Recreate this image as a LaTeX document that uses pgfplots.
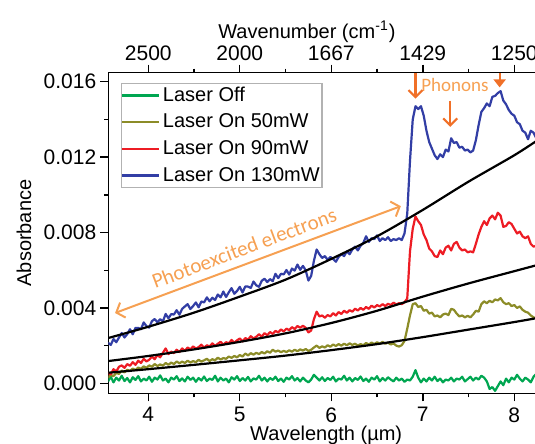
\documentclass[border=0pt]{standalone}
\usepackage{pgfplots}
\pgfplotsset{compat=1.18}
\usepackage{fontspec}
\setmainfont{Liberation Sans}
\newfontfamily\calibri{Carlito}
\usetikzlibrary{arrows.meta}
\definecolor{cgreen}{RGB}{0,166,81}
\definecolor{colive}{RGB}{140,140,40}
\definecolor{cred}{RGB}{237,28,36}
\definecolor{cblue}{RGB}{50,62,165}
\definecolor{clight}{RGB}{246,160,82}
\definecolor{cdark}{RGB}{240,112,40}
\begin{document}
\begin{tikzpicture}
\path[use as bounding box] (-54.15pt,-25.35pt) rectangle (213.35pt,196.65pt);
\begin{axis}[
 at={(0,0)}, anchor=south west,
 scale only axis, width=214.9pt, height=160.3pt,
 xmin=3.563, xmax=8.26, ymin=-0.53, ymax=16.48,
 xtick={4,5,6,7,8}, xticklabels={4,5,6,7,8}, minor x tick num=1,
 ytick={0,4,8,12,16}, yticklabels={0.000,0.004,0.008,0.012,0.016}, minor y tick num=1,
 xtick pos=left, ytick pos=left,
 tick align=outside, major tick length=4pt, minor tick length=2pt,
 every tick/.style={line width=0.7pt, black},
 axis line style={line width=0.7pt},
 ticklabel style={font=\fontsize{10.5}{12}\selectfont},
 /pgf/number format/assume math mode=true,
 xlabel={Wavelength (µm)}, ylabel={Absorbance},
 label style={font=\fontsize{10}{12}\selectfont},
 xlabel style={at={(axis description cs:0.507,-0.1472)}, anchor=base, inner sep=0pt},
 ylabel style={at={(axis description cs:-0.196,0.5)}, anchor=center},
 xticklabel shift=-0.5pt, yticklabel shift=-1.5pt,
 legend cell align=left,
 legend style={at={(0.029,0.969)}, anchor=north west, draw=gray!60, line width=0.6pt,
   font=\fontsize{10}{12}\selectfont, inner xsep=0pt, inner ysep=0.3pt, row sep=1.8pt,
   nodes={inner xsep=1.2pt, inner ysep=1.5pt}},
 legend image code/.code={\draw[#1, line width=1.1pt] (0pt,0pt) -- (18.5pt,0pt);},
 every axis plot/.append style={line width=1.1pt, line join=round},
]
\addplot[cgreen] coordinates {(3.56,0.1)(3.59,0.35)(3.62,0.05)(3.65,0.3)(3.68,0.15)(3.71,0.4)(3.74,0.12)(3.77,0.28)(3.80,0.05)(3.83,0.32)(3.86,0.18)(3.89,0.38)(3.92,0.1)(3.95,0.25)(3.98,0.15)(4.01,0.35)(4.04,0.08)(4.07,0.3)(4.10,0.2)(4.13,0.42)(4.16,0.15)(4.19,0.25)(4.22,0.05)(4.25,0.3)(4.28,0.2)(4.31,0.38)(4.34,0.12)(4.37,0.26)(4.40,0.1)(4.43,0.35)(4.46,0.18)(4.49,0.3)(4.52,0.08)(4.55,0.28)(4.58,0.15)(4.61,0.36)(4.64,0.12)(4.67,0.25)(4.70,0.18)(4.73,0.4)(4.76,0.1)(4.79,0.3)(4.82,0.15)(4.85,0.25)(4.88,0.05)(4.91,0.32)(4.94,0.2)(4.97,0.38)(5.00,0.12)(5.03,0.28)(5.06,0.15)(5.09,0.34)(5.12,0.1)(5.15,0.26)(5.18,0.2)(5.21,0.4)(5.24,0.15)(5.27,0.3)(5.30,0.1)(5.33,0.28)(5.36,0.18)(5.39,0.35)(5.42,0.12)(5.45,0.25)(5.48,0.08)(5.51,0.3)(5.54,0.2)(5.57,0.38)(5.60,0.15)(5.63,0.28)(5.66,0.1)(5.69,0.3)(5.72,0.15)(5.75,0.05)(5.78,0.2)(5.81,0.45)(5.84,0.3)(5.87,0.15)(5.90,0.32)(5.93,0.12)(5.96,0.28)(5.99,0.18)(6.02,0.35)(6.05,0.1)(6.08,0.25)(6.11,0.2)(6.14,0.4)(6.17,0.15)(6.20,0.3)(6.23,0.1)(6.26,0.28)(6.29,0.18)(6.32,0.36)(6.35,0.12)(6.38,0.25)(6.41,0.08)(6.44,0.3)(6.47,0.2)(6.50,0.38)(6.53,0.1)(6.56,0.28)(6.59,0.15)(6.62,0.32)(6.65,0.2)(6.68,0.1)(6.71,0.3)(6.74,0.15)(6.77,0.25)(6.80,0.08)(6.83,0.2)(6.86,0.15)(6.89,0.35)(6.92,0.7)(6.95,0.3)(6.98,0.05)(7.01,0.25)(7.04,0.1)(7.07,0.3)(7.10,0.15)(7.13,0.35)(7.16,0.12)(7.19,0.25)(7.22,0.05)(7.25,0.2)(7.28,0.15)(7.31,0.3)(7.34,0.1)(7.37,0.25)(7.40,0.2)(7.43,0.35)(7.46,0.1)(7.49,0.22)(7.52,0.35)(7.55,0.15)(7.58,0.3)(7.61,0.2)(7.64,0.4)(7.67,0.3)(7.70,0.1)(7.73,-0.3)(7.76,-0.2)(7.79,-0.4)(7.82,-0.15)(7.85,0.1)(7.88,-0.1)(7.91,0.25)(7.94,0.05)(7.97,0.3)(8.00,0.2)(8.03,0.45)(8.06,0.25)(8.09,0.1)(8.12,0.3)(8.15,0.2)(8.18,0.05)(8.21,0.35)(8.24,0.5)(8.27,0.3)};
\addlegendentry{Laser Off}
\addplot[colive] coordinates {(3.56,0.3)(3.59,0.45)(3.62,0.38)(3.65,0.55)(3.68,0.5)(3.71,0.68)(3.74,0.58)(3.77,0.72)(3.80,0.65)(3.83,0.78)(3.86,0.7)(3.89,0.84)(3.92,0.76)(3.95,0.9)(3.98,0.82)(4.01,0.95)(4.04,0.88)(4.07,1.02)(4.10,0.92)(4.13,1.0)(4.16,0.94)(4.19,1.08)(4.22,0.98)(4.25,1.1)(4.28,1.02)(4.31,1.16)(4.34,1.06)(4.37,1.15)(4.40,1.08)(4.43,1.2)(4.46,1.1)(4.49,1.18)(4.52,1.12)(4.55,1.25)(4.58,1.15)(4.61,1.22)(4.64,1.3)(4.67,1.18)(4.70,1.28)(4.73,1.22)(4.76,1.36)(4.79,1.26)(4.82,1.34)(4.85,1.3)(4.88,1.42)(4.91,1.35)(4.94,1.45)(4.97,1.38)(5.00,1.5)(5.03,1.42)(5.06,1.58)(5.09,1.48)(5.12,1.6)(5.15,1.52)(5.18,1.62)(5.21,1.55)(5.24,1.66)(5.27,1.58)(5.30,1.7)(5.33,1.62)(5.36,1.78)(5.39,1.68)(5.42,1.74)(5.45,1.65)(5.48,1.72)(5.51,1.66)(5.54,1.75)(5.57,1.68)(5.60,1.78)(5.63,1.7)(5.66,1.8)(5.69,1.74)(5.72,1.82)(5.75,1.72)(5.78,1.78)(5.81,1.9)(5.84,2.0)(5.87,1.88)(5.90,1.96)(5.93,1.9)(5.96,2.02)(5.99,1.94)(6.02,2.06)(6.05,1.98)(6.08,2.08)(6.11,2.0)(6.14,2.1)(6.17,2.02)(6.20,2.12)(6.23,2.04)(6.26,2.1)(6.29,2.0)(6.32,2.08)(6.35,2.02)(6.38,2.14)(6.41,2.06)(6.44,2.16)(6.47,2.08)(6.50,2.18)(6.53,2.1)(6.56,2.2)(6.59,2.1)(6.62,2.16)(6.65,2.06)(6.68,2.12)(6.71,2.0)(6.74,1.95)(6.77,2.02)(6.80,2.25)(6.83,2.9)(6.86,3.6)(6.89,4.2)(6.92,4.25)(6.95,4.05)(6.98,4.1)(7.01,3.85)(7.04,3.9)(7.07,3.7)(7.10,3.75)(7.13,3.55)(7.16,3.6)(7.19,3.5)(7.22,3.65)(7.25,3.7)(7.28,3.62)(7.31,3.95)(7.34,3.9)(7.37,3.7)(7.40,3.55)(7.43,3.6)(7.46,3.5)(7.49,3.58)(7.52,3.5)(7.55,3.65)(7.58,3.85)(7.61,3.8)(7.64,4.2)(7.67,4.35)(7.70,4.25)(7.73,4.38)(7.76,4.3)(7.79,4.45)(7.82,4.4)(7.85,4.52)(7.88,4.3)(7.91,4.2)(7.94,4.25)(7.97,4.1)(8.00,4.15)(8.03,4.0)(8.06,4.08)(8.09,3.9)(8.12,3.8)(8.15,3.75)(8.18,3.6)(8.21,3.5)(8.24,3.45)(8.27,3.4)};
\addlegendentry{Laser On 50mW}
\addplot[cred] coordinates {(3.56,0.55)(3.59,0.48)(3.62,0.75)(3.65,0.62)(3.68,0.88)(3.71,0.95)(3.74,0.82)(3.77,1.02)(3.80,0.93)(3.83,1.12)(3.86,0.98)(3.89,1.2)(3.92,1.08)(3.95,1.3)(3.98,1.16)(4.01,1.25)(4.04,1.42)(4.07,1.28)(4.10,1.5)(4.13,1.38)(4.16,1.62)(4.19,1.85)(4.22,1.55)(4.25,1.68)(4.28,1.6)(4.31,1.78)(4.34,1.66)(4.37,1.85)(4.40,1.72)(4.43,1.9)(4.46,1.8)(4.49,1.96)(4.52,1.84)(4.55,1.92)(4.58,2.05)(4.61,1.88)(4.64,2.02)(4.67,1.95)(4.70,2.12)(4.73,1.98)(4.76,2.1)(4.79,2.2)(4.82,2.05)(4.85,2.18)(4.88,2.12)(4.91,2.3)(4.94,2.16)(4.97,2.28)(5.00,2.38)(5.03,2.22)(5.06,2.4)(5.09,2.32)(5.12,2.5)(5.15,2.38)(5.18,2.47)(5.21,2.6)(5.24,2.48)(5.27,2.66)(5.30,2.55)(5.33,2.72)(5.36,2.62)(5.39,2.78)(5.42,2.7)(5.45,2.86)(5.48,2.75)(5.51,2.9)(5.54,2.82)(5.57,2.98)(5.60,2.88)(5.63,3.04)(5.66,2.95)(5.69,3.05)(5.72,2.95)(5.75,2.7)(5.78,2.8)(5.81,3.4)(5.84,3.8)(5.87,3.55)(5.90,3.6)(5.93,3.48)(5.96,3.62)(5.99,3.55)(6.02,3.72)(6.05,3.6)(6.08,3.78)(6.11,3.68)(6.14,3.85)(6.17,3.74)(6.20,3.88)(6.23,3.8)(6.26,3.96)(6.29,3.86)(6.32,4.0)(6.35,3.9)(6.38,4.05)(6.41,3.95)(6.44,4.12)(6.47,4.02)(6.50,4.15)(6.53,4.08)(6.56,4.2)(6.59,4.1)(6.62,4.22)(6.65,4.15)(6.68,4.28)(6.71,4.18)(6.74,4.25)(6.77,4.2)(6.80,4.3)(6.83,4.5)(6.86,7.0)(6.89,8.2)(6.92,8.85)(6.95,8.6)(6.98,8.4)(7.01,7.9)(7.04,7.6)(7.07,7.15)(7.10,7.0)(7.13,6.75)(7.16,6.7)(7.19,7.05)(7.22,6.85)(7.25,7.2)(7.28,7.3)(7.31,7.05)(7.34,7.4)(7.37,7.5)(7.40,7.2)(7.43,7.05)(7.46,7.1)(7.49,6.95)(7.52,7.0)(7.55,6.95)(7.58,7.4)(7.61,7.9)(7.64,8.3)(7.67,8.6)(7.70,8.4)(7.73,8.75)(7.76,8.9)(7.79,8.7)(7.82,9.05)(7.85,8.9)(7.88,8.3)(7.91,8.35)(7.94,8.55)(7.97,8.45)(8.00,8.2)(8.03,7.95)(8.06,8.05)(8.09,7.8)(8.12,7.7)(8.15,7.8)(8.18,7.4)(8.21,7.25)(8.24,7.3)(8.27,7.15)};
\addlegendentry{Laser On 90mW}
\addplot[cblue] coordinates {(3.56,2.15)(3.59,2.04)(3.62,2.35)(3.65,2.18)(3.68,2.43)(3.71,2.67)(3.74,2.43)(3.77,2.61)(3.80,2.87)(3.83,2.60)(3.86,2.94)(3.89,2.94)(3.92,2.87)(3.95,3.23)(3.98,3.03)(4.01,2.96)(4.04,3.30)(4.07,3.41)(4.10,3.24)(4.13,3.40)(4.16,3.29)(4.19,3.68)(4.22,3.45)(4.25,3.67)(4.28,3.65)(4.31,3.88)(4.34,3.64)(4.37,3.95)(4.40,4.08)(4.43,4.20)(4.46,3.94)(4.49,4.10)(4.52,4.29)(4.55,4.03)(4.58,4.34)(4.61,4.29)(4.64,4.56)(4.67,4.35)(4.70,4.54)(4.73,4.42)(4.76,4.71)(4.79,4.56)(4.82,4.87)(4.85,4.58)(4.88,4.83)(4.91,5.05)(4.94,4.75)(4.97,4.90)(5.00,5.12)(5.03,4.82)(5.06,5.14)(5.09,5.13)(5.12,5.06)(5.15,5.40)(5.18,5.20)(5.21,5.12)(5.24,5.44)(5.27,5.55)(5.30,5.37)(5.33,5.53)(5.36,5.42)(5.39,5.81)(5.42,5.58)(5.45,5.81)(5.48,5.78)(5.51,6.01)(5.54,5.77)(5.57,6.09)(5.60,5.98)(5.63,6.30)(5.66,6.02)(5.69,6.23)(5.72,6.00)(5.75,5.45)(5.78,5.70)(5.81,6.50)(5.84,7.10)(5.87,6.85)(5.90,6.65)(5.93,6.75)(5.96,6.55)(5.99,6.70)(6.02,6.60)(6.05,6.45)(6.08,6.70)(6.11,6.85)(6.14,6.75)(6.17,7.00)(6.20,6.85)(6.23,7.10)(6.26,7.25)(6.29,7.05)(6.32,7.30)(6.35,7.45)(6.38,7.80)(6.41,7.50)(6.44,7.70)(6.47,7.65)(6.50,7.85)(6.53,7.55)(6.56,7.70)(6.59,7.60)(6.62,7.75)(6.65,7.55)(6.68,7.65)(6.71,7.60)(6.74,7.70)(6.77,7.60)(6.80,7.95)(6.83,9.00)(6.86,11.8)(6.89,14.0)(6.92,14.7)(6.95,14.55)(6.98,14.7)(7.01,14.2)(7.04,13.4)(7.07,12.8)(7.10,12.45)(7.13,12.1)(7.16,11.9)(7.19,12.15)(7.22,12.0)(7.25,12.4)(7.28,12.3)(7.31,13.0)(7.34,12.75)(7.37,12.8)(7.40,12.5)(7.43,12.55)(7.46,12.35)(7.49,12.4)(7.52,12.25)(7.55,12.35)(7.58,12.9)(7.61,13.7)(7.64,14.4)(7.67,14.6)(7.70,14.85)(7.73,14.7)(7.76,15.2)(7.79,15.25)(7.82,15.4)(7.85,15.5)(7.88,15.0)(7.91,14.8)(7.94,14.5)(7.97,14.3)(8.00,14.2)(8.03,13.85)(8.06,13.75)(8.09,13.4)(8.12,13.3)(8.15,12.95)(8.18,13.4)(8.21,13.3)(8.24,13.0)(8.27,13.1)};
\addlegendentry{Laser On 130mW}
\addplot[black, smooth, forget plot] coordinates {(3.56,2.4)(4.0,3.0)(4.5,3.75)(5.0,4.6)(5.5,5.5)(6.0,6.6)(6.5,7.8)(7.0,9.2)(7.5,10.7)(8.0,12.1)(8.27,12.95)};
\addplot[black, smooth, forget plot] coordinates {(3.56,1.18)(4.0,1.45)(4.5,1.8)(5.0,2.2)(5.5,2.65)(6.0,3.2)(6.5,3.85)(7.0,4.6)(7.5,5.3)(8.0,5.95)(8.27,6.3)};
\addplot[black, smooth, forget plot] coordinates {(3.56,0.56)(4.0,0.75)(4.5,0.98)(5.0,1.22)(5.5,1.47)(6.0,1.76)(6.5,2.08)(7.0,2.45)(7.5,2.85)(8.0,3.25)(8.27,3.48)};
\draw[clight, line width=1pt, {Straight Barb[length=3.5pt,width=8pt]}-{Straight Barb[length=3.5pt,width=8pt]}] (axis cs:3.637,3.73) -- (axis cs:6.76,9.4);
\node[rotate=20.5, text=clight, font=\calibri\fontsize{10.5}{12}\selectfont] at (axis cs:5.048,7.18) {Photoexcited electrons};
\node[text=clight, font=\calibri\fontsize{9.5}{11}\selectfont] at (axis cs:7.352,15.82) {Phonons};
\draw[cdark, line width=1.1pt, -{Straight Barb[length=3.5pt,width=7pt]}] (axis cs:6.92,16.45) -- (axis cs:6.92,15.1);
\draw[cdark, line width=1.1pt, -{Straight Barb[length=3.5pt,width=7pt]}] (axis cs:7.30,15.0) -- (axis cs:7.30,13.6);
\draw[cdark, line width=1.1pt, -{Triangle[length=4pt,width=6pt]}] (axis cs:7.84,16.47) -- (axis cs:7.84,15.7);
\end{axis}
\begin{axis}[
 at={(0,0)}, anchor=south west,
 scale only axis, width=214.9pt, height=160.3pt,
 xmin=3.563, xmax=8.26, ymin=-0.53, ymax=16.48,
 axis x line*=top, axis y line=none,
 xtick={4,5,6,7,8}, xticklabels={2500,2000,1667,1429,1250}, minor x tick num=1,
 tick align=outside, major tick length=4pt, minor tick length=2pt,
 every tick/.style={line width=0.7pt, black},
 axis line style={line width=0.7pt},
 ticklabel style={font=\fontsize{10.5}{12}\selectfont},
 xticklabel shift=-1.5pt,
 xlabel={Wavenumber (cm\textsuperscript{-1})},
 label style={font=\fontsize{10}{12}\selectfont},
 xlabel style={at={(axis description cs:0.462,1.128)}, anchor=center},
]
\addplot[draw=none] coordinates {(5,5)};
\end{axis}
\end{tikzpicture}
\end{document}
